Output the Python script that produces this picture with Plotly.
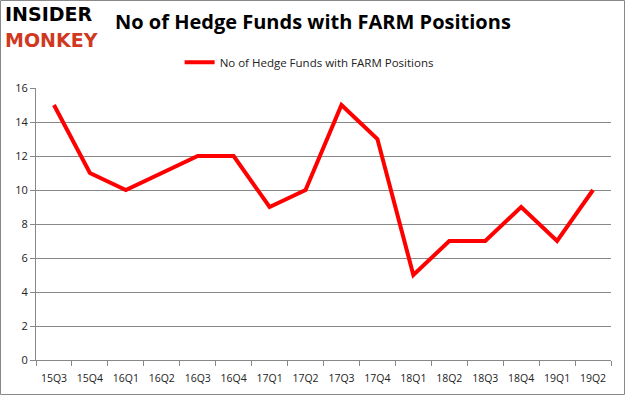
import plotly.graph_objects as go

quarters = ["15Q3", "15Q4", "16Q1", "16Q2", "16Q3", "16Q4", "17Q1", "17Q2",
            "17Q3", "17Q4", "18Q1", "18Q2", "18Q3", "18Q4", "19Q1", "19Q2"]
funds = [15, 11, 10, 11, 12, 12, 9, 10, 15, 13, 5, 7, 7, 9, 7, 10]
series_name = "No of Hedge Funds with FARM Positions"
title_text = "No of Hedge Funds with FARM Positions"

fig = go.Figure()
fig.add_trace(go.Scatter(x=quarters, y=funds, mode="lines", name=series_name,
                         line=dict(color="#ff0000", width=4)))

fig.update_layout(
    width=625, height=395,
    margin=dict(l=36, r=14, t=88, b=35, autoexpand=False),
    paper_bgcolor="white", plot_bgcolor="white",
    font=dict(family="Open Sans, Liberation Sans, sans-serif", color="#222222", size=11),
    showlegend=True,
    legend=dict(orientation="h", x=0.475, xanchor="center", y=1.095, yanchor="middle",
                font=dict(size=11.5, color="#222222"), bgcolor="rgba(0,0,0,0)"),
    xaxis=dict(type="category", range=[-0.5, 15.5], showgrid=False, showline=True,
               linecolor="#888888", ticks="outside", tickson="boundaries", ticklen=5,
               tickcolor="#888888", tickangle=0, automargin=False, ticklabelstandoff=8,
               tickfont=dict(size=10.5, color="#222222")),
    yaxis=dict(range=[0, 16], dtick=2, showgrid=True, gridcolor="#888888", gridwidth=1,
               showline=True, linecolor="#888888", ticks="outside", ticklen=5,
               tickcolor="#888888", zeroline=False, automargin=False,
               tickfont=dict(size=11, color="#222222")),
    shapes=[dict(type="rect", xref="paper", yref="paper", x0=-0.0617, x1=1.0235,
                 y0=-0.1268, y1=1.3217, line=dict(color="#888888", width=1))],
    annotations=[
        dict(text="<b>" + title_text + "</b>", xref="paper", yref="paper", x=0.482, y=1.245,
             xanchor="center", yanchor="middle", showarrow=False,
             font=dict(size=20, color="black", family="Open Sans, sans-serif")),
        dict(text="<b>INSIDER</b>", xref="paper", yref="paper", x=-0.058, y=1.272,
             xanchor="left", yanchor="middle", showarrow=False,
             font=dict(size=19, color="black", family="DejaVu Sans, sans-serif")),
        dict(text="<b>MONKEY</b>", xref="paper", yref="paper", x=-0.058, y=1.175,
             xanchor="left", yanchor="middle", showarrow=False,
             font=dict(size=19, color="#d0391f", family="DejaVu Sans, sans-serif")),
    ],
)

fig.write_html("out.html", config={"displayModeBar": False},
               post_script="document.body.style.margin='0';")
